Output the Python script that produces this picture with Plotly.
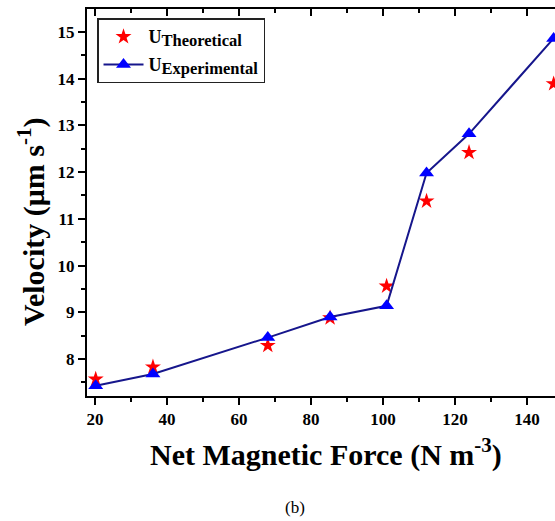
import plotly.graph_objects as go

# Data
net_force = [20.2, 36.1, 68.0, 85.3, 101.0, 112.1, 123.9, 147.4]
u_theoretical = [7.57, 7.83, 8.29, 8.88, 9.56, 11.38, 12.42, 13.89]
u_experimental = [7.43, 7.68, 8.46, 8.90, 9.14, 11.98, 12.82, 14.86]

x_range = [17.78, 147.78]
y_range = [7.21, 15.49]

FONT = "Liberation Serif, Times New Roman, DejaVu Serif, serif"

fig = go.Figure()

fig.add_trace(go.Scatter(
    x=net_force, y=u_theoretical, mode="markers",
    name='<span style="font-size:18px">U</span><sub><span style="font-size:16.5px">Theoretical</span></sub>',
    legendgroup="a",
    marker=dict(symbol="star", size=12, color="#FF0000", line=dict(width=0)),
))
fig.add_trace(go.Scatter(
    x=net_force, y=u_experimental, mode="lines+markers",
    name='<span style="font-size:18px">U</span><sub><span style="font-size:16.5px">Experimental</span></sub>',
    legendgroup="b",
    line=dict(color="#16168C", width=2),
    marker=dict(symbol="triangle-up", size=13, color="#0000FF", line=dict(width=0)),
))
# empty trace to anchor top mirror axis
fig.add_trace(go.Scatter(x=[], y=[], xaxis="x2", showlegend=False, hoverinfo="skip"))

tickfont = dict(family=FONT, size=17, color="black", weight="bold")

fig.update_layout(
    width=555, height=521,
    margin=dict(l=87, r=0, t=9, b=125, pad=0),
    paper_bgcolor="white", plot_bgcolor="white",
    showlegend=True,
    legend=dict(
        x=0.0214, y=0.976, xanchor="left", yanchor="top",
        bordercolor="#222222", borderwidth=1.5, bgcolor="white",
        font=dict(family=FONT, size=16, color="black", weight="bold"),
        itemwidth=40, tracegroupgap=4,
    ),
    xaxis=dict(
        range=x_range, showline=True, linecolor="black", linewidth=2,
        ticks="outside", ticklen=7, tickwidth=2, tickcolor="black",
        tick0=0, dtick=20, tickfont=tickfont, showgrid=False, zeroline=False,
        minor=dict(ticks="outside", ticklen=4, tickwidth=2, tickcolor="black", dtick=10, tick0=0, showgrid=False),
    ),
    xaxis2=dict(
        range=x_range, overlaying="x", side="top", showline=True, linecolor="black", linewidth=2,
        ticks="inside", ticklen=7, tickwidth=2, tickcolor="black",
        tick0=0, dtick=20, showticklabels=False, showgrid=False, zeroline=False,
        minor=dict(ticks="inside", ticklen=4, tickwidth=2, tickcolor="black", dtick=10, tick0=0, showgrid=False),
    ),
    yaxis=dict(
        range=y_range, showline=True, linecolor="black", linewidth=2,
        ticks="outside", ticklen=7, tickwidth=2, tickcolor="black",
        tick0=0, dtick=1, tickfont=tickfont, showgrid=False, zeroline=False,
        minor=dict(ticks="outside", ticklen=4, tickwidth=2, tickcolor="black", dtick=0.5, tick0=0, showgrid=False),
    ),
    annotations=[
        dict(text="<b>Net Magnetic Force (N m<sup>-3</sup>)</b>", xref="paper", yref="paper",
             x=0.5107, y=-0.147, xanchor="center", yanchor="middle", showarrow=False,
             font=dict(family=FONT, size=30, color="black")),
        dict(text="<b>Velocity (μm s<sup>-1</sup>)</b>", xref="paper", yref="paper",
             x=-0.1197, y=0.4496, xanchor="center", yanchor="middle", showarrow=False,
             textangle=-90, font=dict(family=FONT, size=30, color="black")),
        dict(text="(b)", xref="paper", yref="paper",
             x=0.444, y=-0.287, xanchor="center", yanchor="middle", showarrow=False,
             font=dict(family=FONT, size=17, color="black")),
    ],
)

fig.write_html(
    "out.html",
    config={"displayModeBar": False},
    post_script="document.body.style.margin='0';document.body.style.overflow='hidden';",
)
